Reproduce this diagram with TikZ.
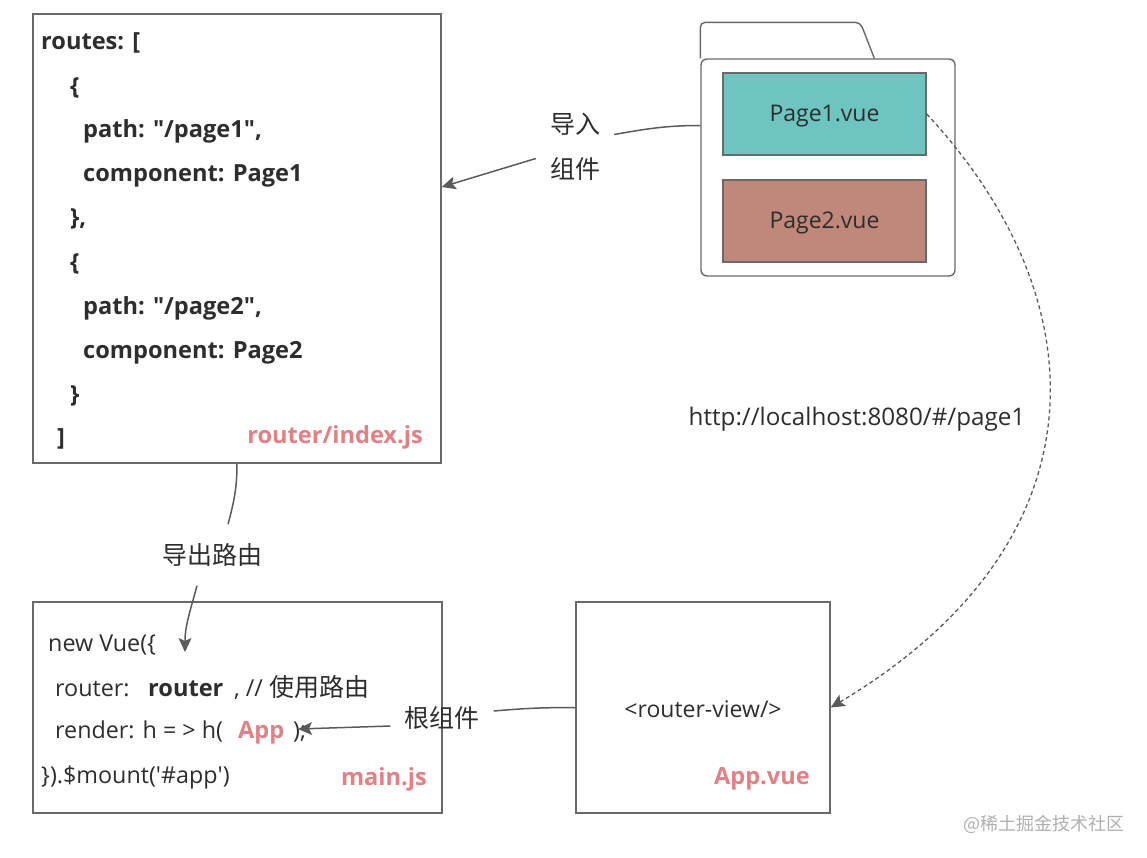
\documentclass[tikz,border=0pt]{standalone}
\usepackage{fontspec}
\setmainfont{Open Sans}
\newfontfamily\cjk{Noto Sans CJK SC}
\usetikzlibrary{arrows.meta}
\definecolor{linegray}{RGB}{90,90,90}
\definecolor{boxgray}{RGB}{105,105,105}
\definecolor{txt}{RGB}{45,45,45}
\definecolor{pinktxt}{RGB}{226,128,132}
\definecolor{tealfill}{RGB}{110,196,192}
\definecolor{brownfill}{RGB}{192,136,122}
\definecolor{markgray}{RGB}{175,175,175}
\begin{document}
\begin{tikzpicture}[x=1pt,y=1pt,
        txtfont/.style={font=\fontsize{23}{28}\selectfont, text=txt},
        box/.style 2 args={draw=boxgray, line width=1.4pt, minimum width=#1, minimum height=#2, inner sep=0},
        code/.style={font=\fontsize{23.6}{28}\selectfont\bfseries, text=txt, anchor=base west, inner sep=0},
        codeplain/.style={font=\fontsize{23.3}{28}\selectfont, text=txt, anchor=base west, inner sep=0},
        fname/.style={font=\fontsize{23.6}{28}\selectfont\bfseries, text=pinktxt, inner sep=0},
        lbl/.style={font=\fontsize{25}{45}\selectfont\cjk, text=txt, align=center, inner xsep=14pt, inner ysep=19pt},
        conn/.style={draw=linegray, line width=1.5pt},
        arr/.style={conn, -{Stealth[length=14pt,width=13pt,inset=3pt]}},
        dashconn/.style={arr, line width=1.3pt, dash pattern=on 4pt off 3pt}]
        \useasboundingbox (0,0) rectangle (1147,-857);
        %% router/index.js
        \node[box={408}{449}] (index) at (237,-238.5) {};
        \foreach \x/\y/\t [count=\i] in {41/49/{routes: [}, 70/94/\{, 83/137/{path: \textquotedbl/page1\textquotedbl,},
            83/181/{component: Page1}, 70/225/{\},}, 70/270/\{, 83/314/{path: \textquotedbl/page2\textquotedbl,},
            83/358/{component: Page2}, 70/402/\}, 57/445/]} {
            \node[code] (rline\i) at (\x,-\y) {\t};
        }
        \node[fname, anchor=base east] (indexname) at (423,-443) {router/index.js};
        %% Folder with the pages
        \node[box={254}{217}, rounded corners=6pt] (folder) at (828,-167.5) {};
        \draw[draw=boxgray, line width=1.4pt, rounded corners=5pt] (folder.north west) -- ++(0,36) -- ++(160,0) -- ++(14,-36);
        \node[box={203}{82}, fill=tealfill, txtfont, text depth=2pt] (p1) at (824.5,-114) {Page1.vue};
        \node[box={203}{82}, fill=brownfill, txtfont, text depth=2pt] (p2) at (824.5,-221) {Page2.vue};
        %% main.js
        \node[box={409}{211}] (main) at (237.5,-707.5) {};
        \node[codeplain] (newvue) at (48,-651) {new Vue(\{};
        \node[codeplain] (routerkey) at (55,-696) {router:};
        \node[code] (routerval) at (148,-696) {router};
        \node[codeplain] (usecomment) at (234,-696) {, // {\cjk\fontsize{25}{28}\selectfont 使用路由}};
        \node[codeplain] (render) at (55,-738) {render: h = > h(};
        \node[fname, anchor=base west] (appname) at (238,-738) {App};
        \node[codeplain] (renderend) at (293,-738) {);};
        \node[codeplain] (mount) at (41,-783) {\}).\$mount(\textquotesingle\#app\textquotesingle)};
        \node[fname, anchor=base east] (mainname) at (427,-785) {main.js};
        %% App.vue
        \node[box={254}{211}] (app) at (703,-707.5) {};
        \node[txtfont, anchor=base, inner sep=0] (view) at (703,-717) {<router-view/>};
        \node[fname, anchor=base east] (appvuename) at (810,-784) {App.vue};
        %% Labels
        \node[lbl] (imp) at (575,-146.5) {导入\\组件};
        \node[lbl] (exp) at (212,-555) {导出路由};
        \node[lbl] (root) at (442,-718) {根组件};
        \node[txtfont, font=\fontsize{24.2}{28}\selectfont, inner sep=0] (url) at (857,-419) {http://localhost:8080/\#/page1};
        \node[font=\fontsize{18}{22}\selectfont\cjk, text=markgray, inner sep=0] (mark) at (1044,-824) {@稀土掘金技术社区};
        %% Connectors
        \coordinate (newvuetip) at (185,-652);
        \coordinate (apptip) at (298,-729);
        \draw[conn] ([yshift=42pt]folder.west) to[out=180,in=10] ([yshift=12pt]imp.east);
        \draw[arr] ([yshift=-12pt]imp.west) -- ([yshift=51.5pt]index.east);
        \draw[conn] (index.south) to[out=-90,in=75] ([xshift=16pt]exp.north);
        \draw[arr] ([xshift=-15pt]exp.south) to[out=-105,in=90] (newvuetip);
        \draw[conn] (app.west) to[out=180,in=5] ([yshift=7pt]root.east);
        \draw[arr] ([yshift=-8pt]root.west) -- (apptip);
        \draw[dashconn] (p1.east) .. controls +(174,-187) and +(277,165) .. (app.east);
    \end{tikzpicture}
\end{document}
